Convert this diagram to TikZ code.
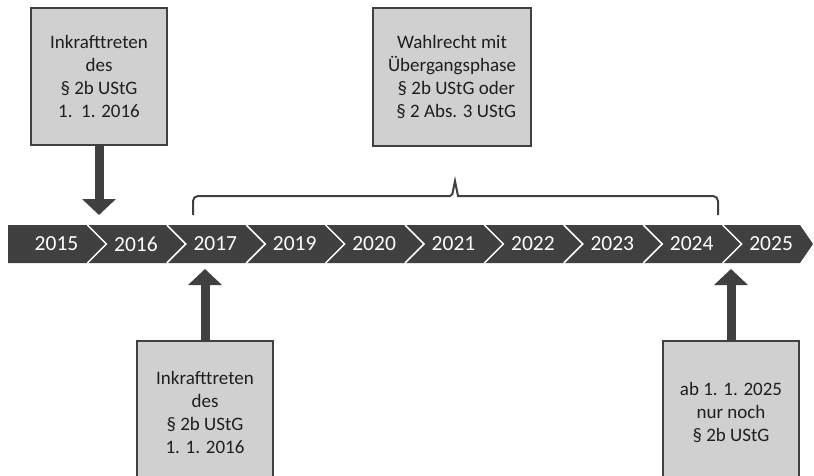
\documentclass[tikz,border=0pt]{standalone}
\usepackage{fontspec}
\setmainfont{Carlito}
\usetikzlibrary{arrows.meta}
\definecolor{bandgray}{RGB}{64,64,64}
\definecolor{boxgray}{RGB}{208,208,208}
\definecolor{textgray}{RGB}{30,30,30}

\begin{document}
\begin{tikzpicture}[
      x=1pt, y=-1pt,
      box/.style={draw=bandgray, line width=1.5pt, fill=boxgray, text=textgray,
                  align=center, inner sep=0pt,
                  font=\fontsize{19}{23}\selectfont},
      year/.style={text=white, inner sep=0pt, font=\fontsize{21.5}{24}\selectfont},
      chevron/.style={draw=white, line width=1.5pt},
      bigarrow/.style={draw=bandgray, line width=9pt,
                       -{Triangle[width=33pt, length=16pt]}},
      bracket/.style={draw=bandgray, line width=2pt}
    ]
    \useasboundingbox (0,0) rectangle (814,476);
    \clip (0,0) rectangle (814,476);

    % Timeline band with chevron dividers.
    \fill[bandgray] (8,225) -- (800,225) -- (813,244) -- (800,263) -- (8,263) -- cycle;
    \foreach \i in {1,...,9}
      \draw[chevron] (8+79.4*\i,225) -- (27+79.4*\i,244) -- (8+79.4*\i,263);
    \foreach \yr [count=\i from 0] in {2015,2016,2017,2019,2020,2021,2022,2023,2024,2025}
      \node[year] (y\yr) at (56.5+79.4*\i,244) {\yr};

    % Boxes above the timeline.
    \node[box, minimum width=136pt, minimum height=137pt] (inkraftA) at (99,76.5)
      {Inkrafttreten\\des\\§ 2b UStG\\1.\ \ 1. 2016};
    \node[box, minimum width=158pt, minimum height=138pt] (wahlrecht) at (452,77)
      {Wahlrecht mit\\Übergangsphase\\\ \ § 2b UStG oder\\\ \ § 2 Abs. 3 UStG};

    % Boxes below the timeline (cut at the lower edge).
    \node[box, minimum width=136pt, minimum height=142pt] (inkraftB) at (205,412)
      {Inkrafttreten\\des\\§ 2b UStG\\1. 1. 2016};
    \node[box, minimum width=136pt, minimum height=142pt] (nurnoch) at (731,412)
      {ab 1. 1. 2025\\nur noch\\§ 2b UStG};

    % Block arrows and bracket.
    \coordinate (markA) at (99,215);
    \coordinate (markB) at (205,269);
    \coordinate (markC) at (731,269);
    \draw[bigarrow] (inkraftA.south) -- (markA);
    \draw[bigarrow] (inkraftB.north) -- (markB);
    \draw[bigarrow] (nurnoch.north) -- (markC);
    \draw[bracket] (193,215) [rounded corners=5pt] -- (193,196) [rounded corners=2pt]
      -- (452,196) [sharp corners] -- (455,181) -- (458,196) [rounded corners=5pt]
      -- (718,196) -- (718,215);
  \end{tikzpicture}
\end{document}
